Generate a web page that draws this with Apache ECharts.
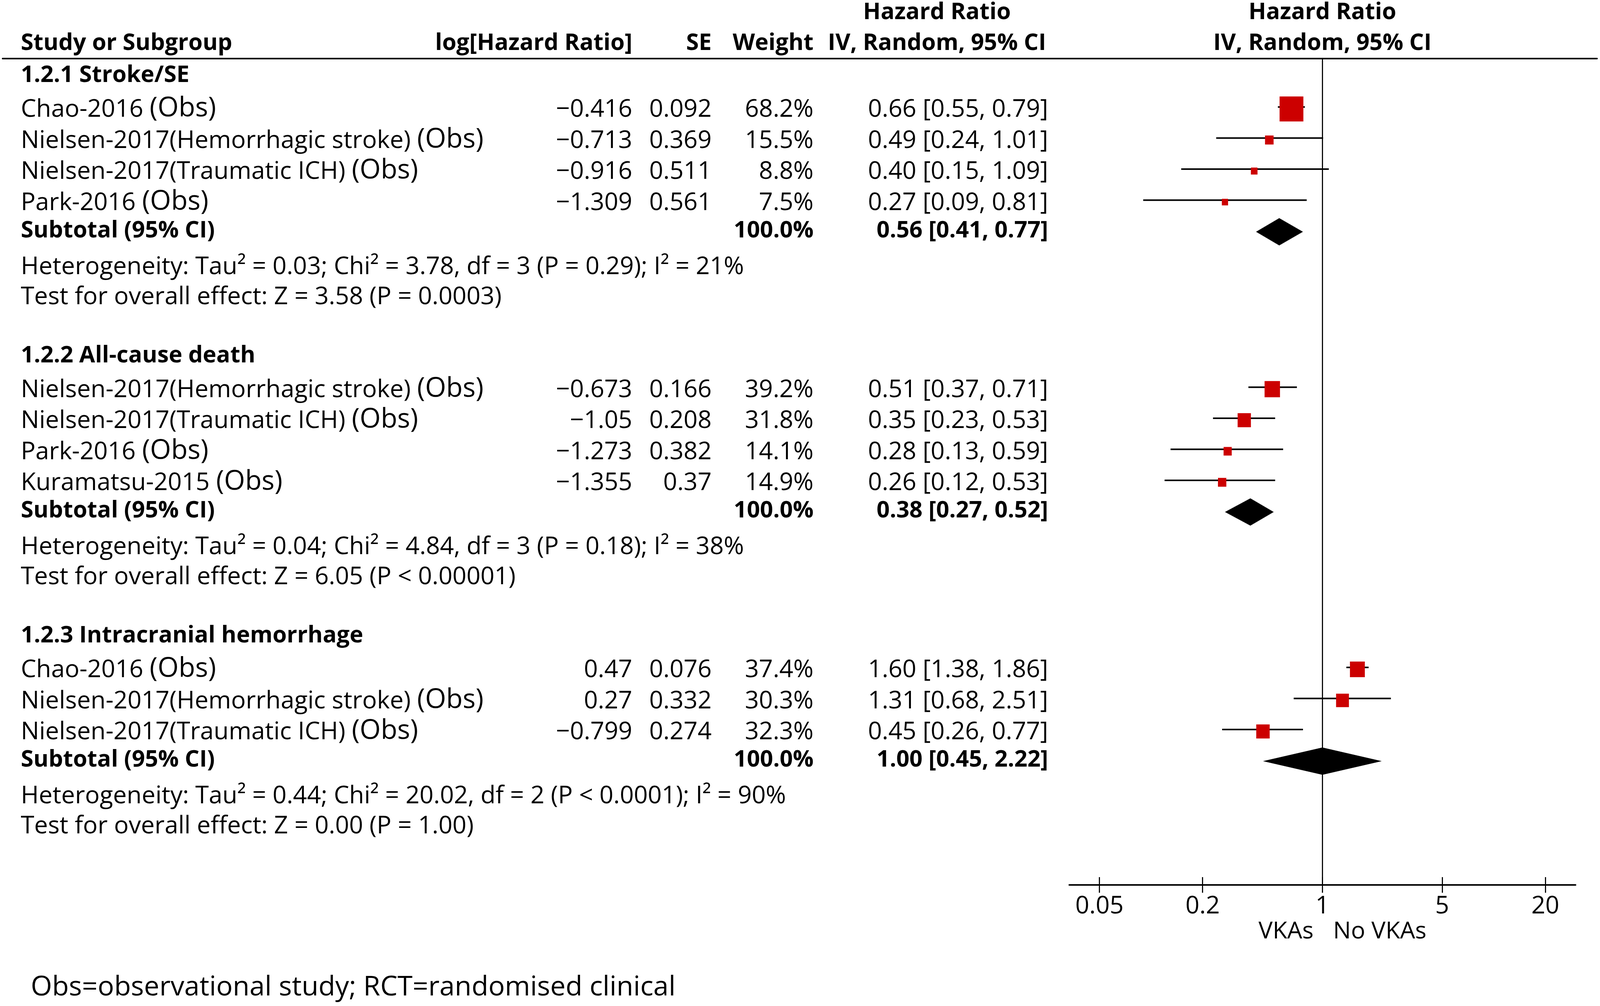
<!DOCTYPE html>
<html>
<head>
<meta charset="utf-8">
<script src="https://cdn.jsdelivr.net/npm/echarts@6/dist/echarts.min.js"></script>
<style>
html, body { margin: 0; padding: 0; background: #ffffff; overflow: hidden; }
#chart { width: 100vw; height: 100vh; }
</style>
</head>
<body>
<div id="chart"></div>
<script>
// ---------------- DATA ----------------
const groupTitles = ['1.2.1 Stroke/SE', '1.2.2 All-cause death', '1.2.3 Intracranial hemorrhage'];

const g1Studies = ['Chao-2016', 'Nielsen-2017(Hemorrhagic stroke)', 'Nielsen-2017(Traumatic ICH)', 'Park-2016'];
const g1Design = ['Obs', 'Obs', 'Obs', 'Obs'];
const g1LogHR = [-0.416, -0.713, -0.916, -1.309];
const g1SE = [0.092, 0.369, 0.511, 0.561];
const g1Weight = [68.2, 15.5, 8.8, 7.5];
const g1HR = [0.66, 0.49, 0.40, 0.27];
const g1Lo = [0.55, 0.24, 0.15, 0.09];
const g1Hi = [0.79, 1.01, 1.09, 0.81];
const g1Subtotal = [0.56, 0.41, 0.77];
const g1Het = 'Heterogeneity: Tau² = 0.03; Chi² = 3.78, df = 3 (P = 0.29); I² = 21%';
const g1Test = 'Test for overall effect: Z = 3.58 (P = 0.0003)';

const g2Studies = ['Nielsen-2017(Hemorrhagic stroke)', 'Nielsen-2017(Traumatic ICH)', 'Park-2016', 'Kuramatsu-2015'];
const g2Design = ['Obs', 'Obs', 'Obs', 'Obs'];
const g2LogHR = [-0.673, -1.05, -1.273, -1.355];
const g2SE = [0.166, 0.208, 0.382, 0.37];
const g2Weight = [39.2, 31.8, 14.1, 14.9];
const g2HR = [0.51, 0.35, 0.28, 0.26];
const g2Lo = [0.37, 0.23, 0.13, 0.12];
const g2Hi = [0.71, 0.53, 0.59, 0.53];
const g2Subtotal = [0.38, 0.27, 0.52];
const g2Het = 'Heterogeneity: Tau² = 0.04; Chi² = 4.84, df = 3 (P = 0.18); I² = 38%';
const g2Test = 'Test for overall effect: Z = 6.05 (P < 0.00001)';

const g3Studies = ['Chao-2016', 'Nielsen-2017(Hemorrhagic stroke)', 'Nielsen-2017(Traumatic ICH)'];
const g3Design = ['Obs', 'Obs', 'Obs'];
const g3LogHR = [0.47, 0.27, -0.799];
const g3SE = [0.076, 0.332, 0.274];
const g3Weight = [37.4, 30.3, 32.3];
const g3HR = [1.60, 1.31, 0.45];
const g3Lo = [1.38, 0.68, 0.26];
const g3Hi = [1.86, 2.51, 0.77];
const g3Subtotal = [1.00, 0.45, 2.22];
const g3Het = 'Heterogeneity: Tau² = 0.44; Chi² = 20.02, df = 2 (P < 0.0001); I² = 90%';
const g3Test = 'Test for overall effect: Z = 0.00 (P = 1.00)';

const axisTickValues = [0.05, 0.2, 1, 5, 20];
const favoursLeft = 'VKAs';
const favoursRight = 'No VKAs';
const footnote = 'Obs=observational study; RCT=randomised clinical';

// ---------------- LAYOUT / STYLE (in reference pixels, scaled to the real viewport) ----------------
const W0 = 4317, H0 = 2576;
const el = document.getElementById('chart');
const SX = el.clientWidth / W0;
const SY = el.clientHeight / H0;
const FONT = '"Open Sans", "Noto Sans", sans-serif';
const SIZE = 66, BOLD_SIZE = 62, OBS_SIZE = 73, TICK_SIZE = 66, FAV_SIZE = 64, FOOT_SIZE = 74;
const RED = '#cc0000';
const RULE_Y = 150, AXIS_Y = 2266;
const SPAN = AXIS_Y - RULE_Y;
const COL = { name: 56, logHR: 1706, se: 1920, weight: 2195, ci: 2828, ciHead: 2528 };
const HEAD1 = -117, HEAD2 = -38;
const STEP = { first: 44, titleToStudy: 88, study: 79.5, studyToSub: 71, subToHet: 93, hetToTest: 77, testToTitle: 150 };
const LOG_LIM = Math.log10(30);
const CI_DY = -8, BOX_DY = -3, DIA_DY = 2, DIA_HALF = 35;
function boxSize(w) { return 11 + 0.78 * w; }
function bottomOffset(size) { return 0.469 * size; }

const groups = [
  { title: groupTitles[0], studies: g1Studies, design: g1Design, logHR: g1LogHR, se: g1SE, weight: g1Weight, hr: g1HR, lo: g1Lo, hi: g1Hi, sub: g1Subtotal, het: g1Het, test: g1Test },
  { title: groupTitles[1], studies: g2Studies, design: g2Design, logHR: g2LogHR, se: g2SE, weight: g2Weight, hr: g2HR, lo: g2Lo, hi: g2Hi, sub: g2Subtotal, het: g2Het, test: g2Test },
  { title: groupTitles[2], studies: g3Studies, design: g3Design, logHR: g3LogHR, se: g3SE, weight: g3Weight, hr: g3HR, lo: g3Lo, hi: g3Hi, sub: g3Subtotal, het: g3Het, test: g3Test }
];

function fmtNum(v) { return v < 0 ? '\u2212' + String(-v) : String(v); }
function fmtCI(h, l, u) { return h.toFixed(2) + ' [' + l.toFixed(2) + ', ' + u.toFixed(2) + ']'; }

const tableTexts = [];
const plotTexts = [];
function T(list, x, y, text, align, opt) { list.push(Object.assign({ x: x, y: y, text: text, align: align }, opt || {})); }

// header rows
T(tableTexts, COL.ciHead, HEAD1, 'Hazard Ratio', 'center', { bold: true });
T(tableTexts, COL.name, HEAD2, 'Study or Subgroup', 'left', { bold: true });
T(tableTexts, COL.logHR, HEAD2, 'log[Hazard Ratio]', 'right', { bold: true });
T(tableTexts, COL.se, HEAD2, 'SE', 'right', { bold: true });
T(tableTexts, COL.weight, HEAD2, 'Weight', 'right', { bold: true });
T(tableTexts, COL.ciHead, HEAD2, 'IV, Random, 95% CI', 'center', { bold: true });
T(plotTexts, 0, HEAD1, 'Hazard Ratio', 'center', { bold: true });
T(plotTexts, 0, HEAD2, 'IV, Random, 95% CI', 'center', { bold: true });

const studyMarks = [];
const diamonds = [];
let y = STEP.first;
groups.forEach(function (g, gi) {
  if (gi > 0) y += STEP.testToTitle;
  T(tableTexts, COL.name, y, g.title, 'left', { bold: true });
  y += STEP.titleToStudy;
  g.studies.forEach(function (s, i) {
    if (i > 0) y += STEP.study;
    T(tableTexts, COL.name, y, '{n|' + s + ' }{o|(' + g.design[i] + ')}', 'left', { rich: true });
    T(tableTexts, COL.logHR, y, fmtNum(g.logHR[i]), 'right');
    T(tableTexts, COL.se, y, fmtNum(g.se[i]), 'right');
    T(tableTexts, COL.weight, y, g.weight[i].toFixed(1) + '%', 'right');
    T(tableTexts, COL.ci, y, fmtCI(g.hr[i], g.lo[i], g.hi[i]), 'right');
    studyMarks.push([Math.log10(g.hr[i]), y, Math.log10(g.lo[i]), Math.log10(g.hi[i]), g.weight[i]]);
  });
  y += STEP.studyToSub;
  const total = g.weight.reduce(function (a, b) { return a + b; }, 0);
  T(tableTexts, COL.name, y, 'Subtotal (95% CI)', 'left', { bold: true });
  T(tableTexts, COL.weight, y, total.toFixed(1) + '%', 'right', { bold: true });
  T(tableTexts, COL.ci, y, fmtCI(g.sub[0], g.sub[1], g.sub[2]), 'right', { bold: true });
  diamonds.push([Math.log10(g.sub[0]), y, Math.log10(g.sub[1]), Math.log10(g.sub[2])]);
  y += STEP.subToHet;
  T(tableTexts, COL.name, y, g.het, 'left');
  y += STEP.hetToTest;
  T(tableTexts, COL.name, y, g.test, 'left');
});
T(plotTexts, 0, 2236, favoursLeft, 'right', { dx: -24, size: FAV_SIZE });
T(plotTexts, 0, 2236, favoursRight, 'left', { dx: 29, size: FAV_SIZE });
T(tableTexts, 83, 2379, footnote, 'left', { size: FOOT_SIZE });

function textRenderer(list) {
  return function (params, api) {
    const s = list[params.dataIndex];
    const p = api.coord([api.value(0), api.value(1)]);
    const size = s.size || (s.bold ? BOLD_SIZE : SIZE);
    const style = {
      text: s.text, fill: '#000', fontFamily: FONT, fontSize: size * SX,
      fontWeight: s.bold ? 'bold' : 'normal', align: s.align, verticalAlign: 'bottom'
    };
    if (s.rich) {
      style.rich = {
        n: { fontSize: SIZE * SX, fontFamily: FONT, verticalAlign: 'bottom', fill: '#000' },
        o: { fontSize: OBS_SIZE * SX, fontFamily: FONT, verticalAlign: 'bottom', fill: '#000' }
      };
    }
    return { type: 'text', x: p[0] + (s.dx || 0) * SX, y: p[1] + bottomOffset(size) * SY, style: style };
  };
}

const tickLogs = axisTickValues.map(function (v) { return Math.log10(v); });
function tickFmt(v) { return String(+Math.pow(10, v).toPrecision(2)); }

const chart = echarts.init(el, null, { renderer: 'canvas' });
chart.setOption({
  animation: false,
  backgroundColor: '#ffffff',
  grid: [
    { left: 7 * SX, right: 8 * SX, top: RULE_Y * SY, bottom: (H0 - AXIS_Y) * SY },
    { left: 2885 * SX, right: 66 * SX, top: RULE_Y * SY, bottom: (H0 - AXIS_Y) * SY }
  ],
  xAxis: [
    { gridIndex: 0, type: 'value', min: 7, max: 4309, position: 'top',
      axisLine: { show: true, onZero: false, lineStyle: { color: '#000', width: 4 * SY } },
      axisTick: { show: false }, axisLabel: { show: false }, splitLine: { show: false } },
    { gridIndex: 1, type: 'value', min: -LOG_LIM, max: LOG_LIM, position: 'bottom',
      axisLine: { show: true, onZero: false, lineStyle: { color: '#000', width: 4 * SY } },
      axisTick: { show: true, customValues: tickLogs, length: 20 * SY, inside: false, lineStyle: { color: '#000', width: 3 * SX } },
      axisLabel: { show: true, customValues: tickLogs, formatter: tickFmt, margin: 24 * SY,
        fontSize: TICK_SIZE * SX, fontFamily: FONT, color: '#000' },
      splitLine: { show: false } },
    { gridIndex: 1, type: 'value', min: -LOG_LIM, max: LOG_LIM, position: 'bottom', offset: 0,
      axisLine: { show: false, onZero: false },
      axisTick: { show: true, customValues: tickLogs, length: 20 * SY, inside: true, lineStyle: { color: '#000', width: 3 * SX } },
      axisLabel: { show: false }, splitLine: { show: false } }
  ],
  yAxis: [
    { gridIndex: 0, type: 'value', inverse: true, min: 0, max: SPAN, show: false },
    { gridIndex: 1, type: 'value', inverse: true, min: 0, max: SPAN, show: false }
  ],
  series: [
    { type: 'custom', xAxisIndex: 0, yAxisIndex: 0, silent: true, z: 5,
      data: tableTexts.map(function (s) { return [s.x, s.y]; }),
      encode: { x: 0, y: 1 }, renderItem: textRenderer(tableTexts) },
    { type: 'custom', xAxisIndex: 1, yAxisIndex: 1, silent: true, z: 5,
      data: plotTexts.map(function (s) { return [s.x, s.y]; }),
      encode: { x: 0, y: 1 }, renderItem: textRenderer(plotTexts) },
    { type: 'custom', xAxisIndex: 1, yAxisIndex: 1, silent: true, z: 1,
      data: [[0, 0]], encode: { x: 0, y: 1 },
      renderItem: function () { return { type: 'group', children: [] }; },
      markLine: { silent: true, symbol: ['none', 'none'], label: { show: false },
        lineStyle: { color: '#000', width: 3 * SX, type: 'solid' }, data: [{ xAxis: 0 }] } },
    { type: 'custom', xAxisIndex: 1, yAxisIndex: 1, silent: true, z: 10,
      data: studyMarks, encode: { x: 0, y: 1 },
      renderItem: function (params, api) {
        const yy = api.value(1);
        const l = api.coord([api.value(2), yy]);
        const r = api.coord([api.value(3), yy]);
        const c = api.coord([api.value(0), yy]);
        const s = boxSize(api.value(4));
        return { type: 'group', children: [
          { type: 'line', shape: { x1: l[0], y1: l[1] + CI_DY * SY, x2: r[0], y2: r[1] + CI_DY * SY },
            style: { stroke: '#000', lineWidth: 4 * SY } },
          { type: 'rect', shape: { x: c[0] - s * SX / 2, y: c[1] + BOX_DY * SY - s * SY / 2, width: s * SX, height: s * SY },
            style: { fill: RED } }
        ] };
      } },
    { type: 'custom', xAxisIndex: 1, yAxisIndex: 1, silent: true, z: 10,
      data: diamonds, encode: { x: 0, y: 1 },
      renderItem: function (params, api) {
        const yy = api.value(1);
        const c = api.coord([api.value(0), yy]);
        const l = api.coord([api.value(2), yy]);
        const r = api.coord([api.value(3), yy]);
        const cy = c[1] + DIA_DY * SY;
        const h = DIA_HALF * SY;
        return { type: 'polygon',
          shape: { points: [[l[0], cy], [c[0], cy - h], [r[0], cy], [c[0], cy + h]] },
          style: { fill: '#000' } };
      } }
  ]
});
</script>
</body>
</html>
